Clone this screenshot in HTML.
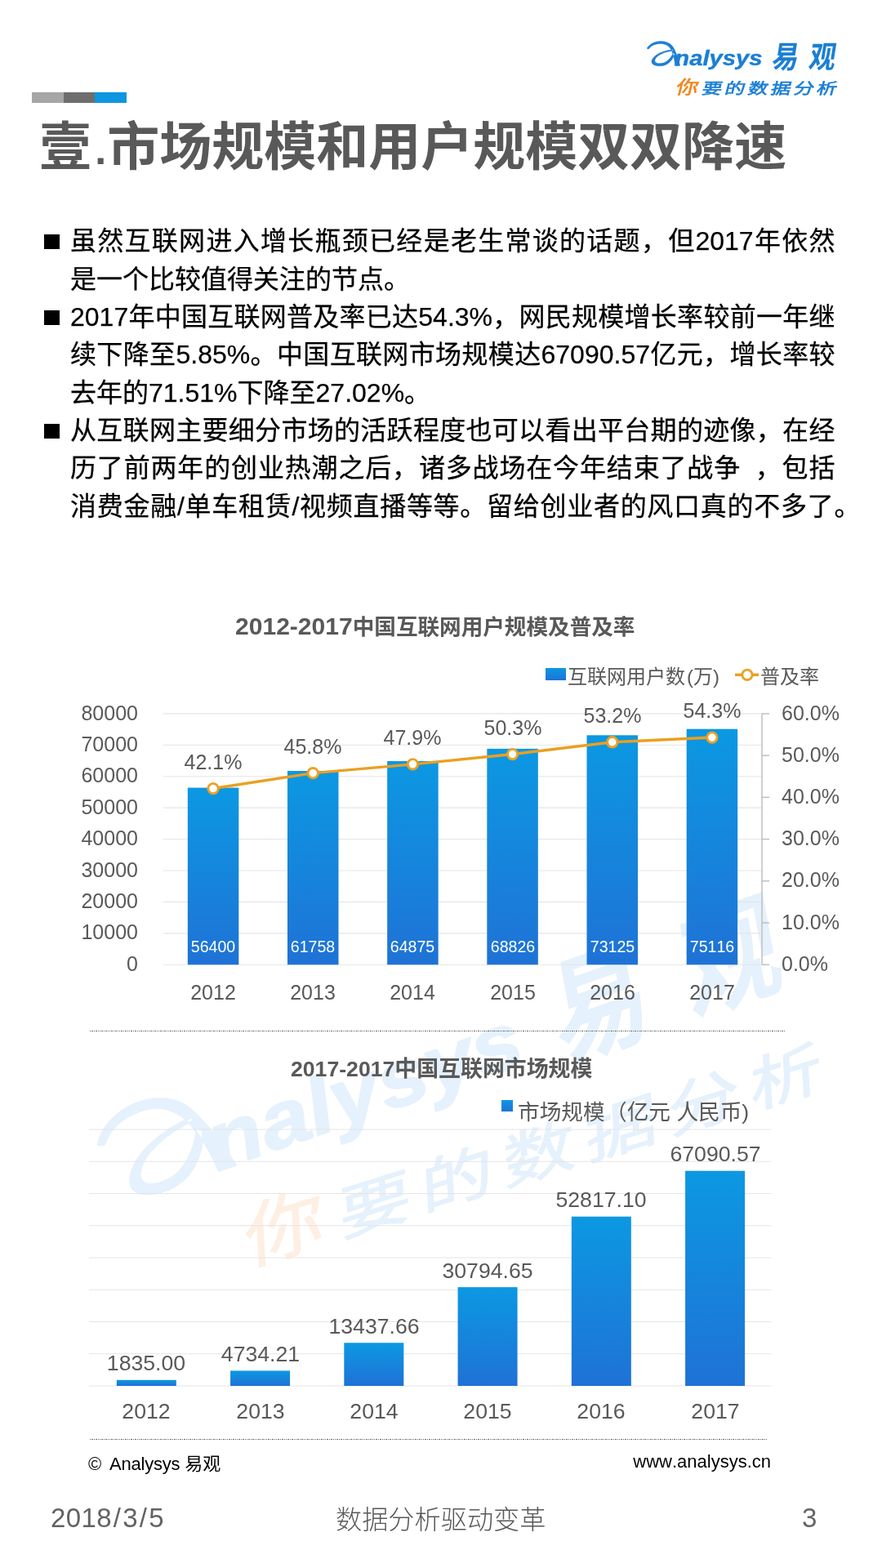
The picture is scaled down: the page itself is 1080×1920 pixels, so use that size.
<!DOCTYPE html>
<html lang="zh-CN"><head><meta charset="utf-8"><title>壹.市场规模和用户规模双双降速</title><style>
html,body{margin:0;padding:0;background:#fff}
#p{position:relative;width:1080px;height:1920px;overflow:hidden;background:#fff;font-family:"Liberation Sans","Noto Sans CJK SC",sans-serif;font-kerning:none}
.abs{position:absolute}
.t{position:absolute;white-space:nowrap;line-height:1;height:1em;will-change:transform}
.bd{-webkit-text-stroke:0.25px #000}
.sl{margin:0 1.8px}
.pd{position:relative;top:-1.5px;display:inline-block;width:19.3px;font-size:50px;padding-left:4.2px;box-sizing:border-box;letter-spacing:0}
.bar{background:linear-gradient(#0c98e2,#1f72d6)}
.dot{height:1.6px;background:repeating-linear-gradient(90deg,#6a6a6a 0,#6a6a6a 1.4px,transparent 1.4px,transparent 2.4px)}
svg{will-change:transform}
svg text{font-family:"Liberation Sans","Noto Sans CJK SC",sans-serif}
</style></head>
<body><div id="p">
<svg class="abs" width="1080" height="1920" viewBox="0 0 1080 1920" style="left:0;top:0"><g opacity="0.12"><g transform="rotate(-2 445 1330) translate(117.5 1390) rotate(-17.3) scale(3.75) translate(-792.2 -59.2)"><path d="M792.2 59.2C795 54.5 801 50.8 809 50.6C816 50.5 822 53.5 825 59C828 64.5 831 73 832.6 80.5L826.6 80.5C826.3 74 825 68.5 823 63.5C821 57.5 816 53.6 809.5 53.5C803 53.4 797.5 55.5 794.5 59.8C793.8 60.3 792.8 60 792.2 59.2ZM824 61C814 61.5 802 66 798.5 73C796 78.5 802 81.3 810 80.7C817 80 823 75 826 66.5L824.5 64.5C821.5 71.5 816 76.8 810 77.6C804.5 78.2 800.8 76.5 802 73C804 67.5 814 63 824.3 62.2Z" fill="#2a8fe0" stroke="#2a8fe0" stroke-width="0.5" stroke-linejoin="round"/><text transform="translate(826.3 80.2) scale(1.125 1)" font-size="26" font-weight="700" font-style="italic" fill="#2a8fe0" stroke="#2a8fe0" stroke-width="0.45">nalysys</text><text transform="translate(943.9 83.3) skewX(-9) scale(0.864 1)" font-size="37.6" font-weight="700" fill="#2a8fe0">易</text><text transform="translate(989.2 83.3) skewX(-9) scale(0.864 1)" font-size="37.6" font-weight="700" fill="#2a8fe0">观</text></g><g transform="translate(117.5 1390) rotate(-17.3) scale(3.75) translate(-792.2 -59.2)"><text transform="translate(826.5 114.6) skewX(-14) scale(1.175 1)" font-size="22.8" fill="#f07d1a" stroke="#f07d1a" stroke-width="0.3">你</text><text transform="translate(858.5 114.8) skewX(-14) scale(1.303 1)" font-size="18.8" fill="#2a8fe0" stroke="#2a8fe0" stroke-width="0.3">要</text><text transform="translate(886.6 114.8) skewX(-14) scale(1.303 1)" font-size="18.8" fill="#2a8fe0" stroke="#2a8fe0" stroke-width="0.3">的</text><text transform="translate(914.7 114.8) skewX(-14) scale(1.303 1)" font-size="18.8" fill="#2a8fe0" stroke="#2a8fe0" stroke-width="0.3">数</text><text transform="translate(942.8 114.8) skewX(-14) scale(1.303 1)" font-size="18.8" fill="#2a8fe0" stroke="#2a8fe0" stroke-width="0.3">据</text><text transform="translate(970.9 114.8) skewX(-14) scale(1.303 1)" font-size="18.8" fill="#2a8fe0" stroke="#2a8fe0" stroke-width="0.3">分</text><text transform="translate(999 114.8) skewX(-14) scale(1.303 1)" font-size="18.8" fill="#2a8fe0" stroke="#2a8fe0" stroke-width="0.3">析</text></g></g></svg>
<svg class="abs" width="1080" height="140" viewBox="0 0 1080 140" style="left:0;top:0"><path d="M792.2 59.2C795 54.5 801 50.8 809 50.6C816 50.5 822 53.5 825 59C828 64.5 831 73 832.6 80.5L826.6 80.5C826.3 74 825 68.5 823 63.5C821 57.5 816 53.6 809.5 53.5C803 53.4 797.5 55.5 794.5 59.8C793.8 60.3 792.8 60 792.2 59.2ZM824 61C814 61.5 802 66 798.5 73C796 78.5 802 81.3 810 80.7C817 80 823 75 826 66.5L824.5 64.5C821.5 71.5 816 76.8 810 77.6C804.5 78.2 800.8 76.5 802 73C804 67.5 814 63 824.3 62.2Z" fill="#1b7fd4" stroke="#1b7fd4" stroke-width="0.5" stroke-linejoin="round"/><text transform="translate(826.3 80.2) scale(1.125 1)" font-size="26" font-weight="700" font-style="italic" fill="#1b7fd4" stroke="#1b7fd4" stroke-width="0.45">nalysys</text><text transform="translate(943.9 83.3) skewX(-9) scale(0.864 1)" font-size="37.6" font-weight="700" fill="#1b7fd4">易</text><text transform="translate(989.2 83.3) skewX(-9) scale(0.864 1)" font-size="37.6" font-weight="700" fill="#1b7fd4">观</text><text transform="translate(826.5 114.6) skewX(-14) scale(1.175 1)" font-size="22.8" fill="#f08519" stroke="#f08519" stroke-width="0.6">你</text><text transform="translate(858.5 114.8) skewX(-14) scale(1.303 1)" font-size="18.8" fill="#1b7fd4" stroke="#1b7fd4" stroke-width="0.6">要</text><text transform="translate(886.6 114.8) skewX(-14) scale(1.303 1)" font-size="18.8" fill="#1b7fd4" stroke="#1b7fd4" stroke-width="0.6">的</text><text transform="translate(914.7 114.8) skewX(-14) scale(1.303 1)" font-size="18.8" fill="#1b7fd4" stroke="#1b7fd4" stroke-width="0.6">数</text><text transform="translate(942.8 114.8) skewX(-14) scale(1.303 1)" font-size="18.8" fill="#1b7fd4" stroke="#1b7fd4" stroke-width="0.6">据</text><text transform="translate(970.9 114.8) skewX(-14) scale(1.303 1)" font-size="18.8" fill="#1b7fd4" stroke="#1b7fd4" stroke-width="0.6">分</text><text transform="translate(999 114.8) skewX(-14) scale(1.303 1)" font-size="18.8" fill="#1b7fd4" stroke="#1b7fd4" stroke-width="0.6">析</text></svg>
<div class="abs" style="left:39px;top:113px;width:39px;height:13px;background:#a6a6a6"></div>
<div class="abs" style="left:78px;top:113px;width:38px;height:13px;background:#6e6e6e"></div>
<div class="abs" style="left:116px;top:113px;width:39px;height:13px;background:#0e96e0"></div>
<div class="t" style="left:48px;top:148.32px;font-size:64px;color:#595959;font-weight:700;"><span>壹</span><span class="pd">.</span><span>市场规模和用户规模双双降速</span></div>
<div class="t bd" style="left:85.8px;top:279.41px;font-size:32px;color:#000;"><span style="letter-spacing:1.28px">虽然互联网进入增长瓶颈已经是老生常谈的话题，但</span><span style="margin-right:1.28px">2017</span><span style="letter-spacing:1.28px">年依然</span></div>
<div class="t bd" style="left:85.8px;top:325.71px;font-size:32px;color:#000;"><span>是一个比较值得关注的节点。</span></div>
<div class="t bd" style="left:85.8px;top:372.01px;font-size:32px;color:#000;"><span style="margin-right:0.26px">2017</span><span style="letter-spacing:0.26px">年中国互联网普及率已达</span><span style="margin-right:0.26px">54.3%</span><span style="letter-spacing:0.26px">，网民规模增长率较前一年继</span></div>
<div class="t bd" style="left:85.8px;top:418.31px;font-size:32px;color:#000;"><span style="letter-spacing:0.36px">续下降至</span><span style="margin-right:0.36px">5.85%</span><span style="letter-spacing:0.36px">。中国互联网市场规模达</span><span style="margin-right:0.36px">67090.57</span><span style="letter-spacing:0.36px">亿元，增长率较</span></div>
<div class="t bd" style="left:85.8px;top:464.61px;font-size:32px;color:#000;"><span>去年的</span>71.51%<span>下降至</span>27.02%<span>。</span></div>
<div class="t bd" style="left:85.8px;top:510.91px;font-size:32px;color:#000;"><span style="letter-spacing:0.3px">从互联网主要细分市场的活跃程度也可以看出平台期的迹像，在经</span></div>
<div class="t bd" style="left:85.8px;top:557.21px;font-size:32px;color:#000;word-spacing:8px;"><span style="letter-spacing:0.84px">历了前两年的创业热潮之后，诸多战场在今年结束了战争</span><span style="margin-right:0.84px"> </span><span style="letter-spacing:0.84px">，包括</span></div>
<div class="t bd" style="left:85.8px;top:603.51px;font-size:32px;color:#000;"><span style="letter-spacing:0.72px">消费金融</span><span style="margin-right:0.72px">/</span><span style="letter-spacing:0.72px">单车租赁</span><span style="margin-right:0.72px">/</span><span style="letter-spacing:0.72px">视频直播等等。留给创业者的风口真的不多了。</span></div>
<div class="abs" style="left:54px;top:287px;width:18.5px;height:18.2px;background:#000"></div>
<div class="abs" style="left:54px;top:379.6px;width:18.5px;height:18.2px;background:#000"></div>
<div class="abs" style="left:54px;top:518.5px;width:18.5px;height:18.2px;background:#000"></div>
<div class="t" style="left:287.5px;top:754.98px;font-size:26.6px;color:#595959;font-weight:700;"><span style="font-size:1.13em;line-height:0">2012-2017</span><span>中国互联网用户规模及普及率</span></div>
<div class="abs bar" style="left:668px;top:818px;width:25px;height:15px"></div>
<div class="t" style="left:695px;top:817.18px;font-size:24px;color:#595959;"><span>互联网用户数</span></div>
<div class="t" style="left:841px;top:817.18px;font-size:24px;color:#595959;">(</div>
<div class="t" style="left:848.6px;top:817.18px;font-size:24px;color:#595959;"><span>万</span></div>
<div class="t" style="left:872.6px;top:817.18px;font-size:24px;color:#595959;">)</div>
<div class="t" style="left:931.3px;top:817.18px;font-size:24px;color:#595959;"><span>普及率</span></div>
<svg class="abs" width="1080" height="500" viewBox="0 800 1080 500" style="left:0;top:800px"><defs><linearGradient id="bg" x1="0" y1="0" x2="0" y2="1"><stop offset="0" stop-color="#0c98e2"/><stop offset="1" stop-color="#1f72d6"/></linearGradient></defs><path d="M200 1181.25H933" stroke="#e5e5e5" stroke-width="1.1"/><path d="M200 1142.83H933" stroke="#e5e5e5" stroke-width="1.1"/><path d="M200 1104.41H933" stroke="#e5e5e5" stroke-width="1.1"/><path d="M200 1065.99H933" stroke="#e5e5e5" stroke-width="1.1"/><path d="M200 1027.57H933" stroke="#e5e5e5" stroke-width="1.1"/><path d="M200 989.15H933" stroke="#e5e5e5" stroke-width="1.1"/><path d="M200 950.73H933" stroke="#e5e5e5" stroke-width="1.1"/><path d="M200 912.31H933" stroke="#e5e5e5" stroke-width="1.1"/><path d="M200 873.89H933" stroke="#e5e5e5" stroke-width="1.1"/><rect x="229.83" y="964.56" width="62.5" height="216.69" fill="url(#bg)"/><rect x="352" y="943.98" width="62.5" height="237.27" fill="url(#bg)"/><rect x="474.17" y="932" width="62.5" height="249.25" fill="url(#bg)"/><rect x="596.33" y="916.82" width="62.5" height="264.43" fill="url(#bg)"/><rect x="718.5" y="900.3" width="62.5" height="280.95" fill="url(#bg)"/><rect x="840.67" y="892.65" width="62.5" height="288.6" fill="url(#bg)"/><path d="M933 873.89V1181.25" stroke="#bfbfbf" stroke-width="1.5" fill="none"/><path d="M933 1181.25H942" stroke="#bfbfbf" stroke-width="1.5"/><path d="M933 1130.02H942" stroke="#bfbfbf" stroke-width="1.5"/><path d="M933 1078.8H942" stroke="#bfbfbf" stroke-width="1.5"/><path d="M933 1027.57H942" stroke="#bfbfbf" stroke-width="1.5"/><path d="M933 976.34H942" stroke="#bfbfbf" stroke-width="1.5"/><path d="M933 925.12H942" stroke="#bfbfbf" stroke-width="1.5"/><path d="M933 873.89H942" stroke="#bfbfbf" stroke-width="1.5"/><polyline points="261.08,965.59 383.25,946.63 505.42,935.87 627.58,923.58 749.75,908.72 871.92,903.09" fill="none" stroke="#eaa021" stroke-width="3.5" stroke-linejoin="round"/><circle cx="261.08" cy="965.59" r="6.2" fill="#fff" stroke="#e9a224" stroke-width="2.9"/><circle cx="383.25" cy="946.63" r="6.2" fill="#fff" stroke="#e9a224" stroke-width="2.9"/><circle cx="505.42" cy="935.87" r="6.2" fill="#fff" stroke="#e9a224" stroke-width="2.9"/><circle cx="627.58" cy="923.58" r="6.2" fill="#fff" stroke="#e9a224" stroke-width="2.9"/><circle cx="749.75" cy="908.72" r="6.2" fill="#fff" stroke="#e9a224" stroke-width="2.9"/><circle cx="871.92" cy="903.09" r="6.2" fill="#fff" stroke="#e9a224" stroke-width="2.9"/><path d="M900 826.3H929" stroke="#eaa021" stroke-width="3.5"/><circle cx="915" cy="826.3" r="6.2" fill="#fff" stroke="#e9a224" stroke-width="2.9"/></svg>
<div class="t" style="left:168.7px;top:1167.89px;font-size:25px;color:#595959;transform:translateX(-100%);">0</div>
<div class="t" style="left:168.7px;top:1129.47px;font-size:25px;color:#595959;transform:translateX(-100%);">10000</div>
<div class="t" style="left:168.7px;top:1091.05px;font-size:25px;color:#595959;transform:translateX(-100%);">20000</div>
<div class="t" style="left:168.7px;top:1052.63px;font-size:25px;color:#595959;transform:translateX(-100%);">30000</div>
<div class="t" style="left:168.7px;top:1014.21px;font-size:25px;color:#595959;transform:translateX(-100%);">40000</div>
<div class="t" style="left:168.7px;top:975.79px;font-size:25px;color:#595959;transform:translateX(-100%);">50000</div>
<div class="t" style="left:168.7px;top:937.37px;font-size:25px;color:#595959;transform:translateX(-100%);">60000</div>
<div class="t" style="left:168.7px;top:898.95px;font-size:25px;color:#595959;transform:translateX(-100%);">70000</div>
<div class="t" style="left:168.7px;top:860.53px;font-size:25px;color:#595959;transform:translateX(-100%);">80000</div>
<div class="t" style="left:957px;top:1167.89px;font-size:25px;color:#595959;">0.0%</div>
<div class="t" style="left:957px;top:1116.66px;font-size:25px;color:#595959;">10.0%</div>
<div class="t" style="left:957px;top:1065.43px;font-size:25px;color:#595959;">20.0%</div>
<div class="t" style="left:957px;top:1014.21px;font-size:25px;color:#595959;">30.0%</div>
<div class="t" style="left:957px;top:962.98px;font-size:25px;color:#595959;">40.0%</div>
<div class="t" style="left:957px;top:911.75px;font-size:25px;color:#595959;">50.0%</div>
<div class="t" style="left:957px;top:860.53px;font-size:25px;color:#595959;">60.0%</div>
<div class="t" style="left:261.08px;top:920.62px;font-size:25px;color:#595959;transform:translateX(-50%);">42.1%</div>
<div class="t" style="left:261.08px;top:1150.11px;font-size:19.6px;color:#fff;transform:translateX(-50%);">56400</div>
<div class="t" style="left:261.08px;top:1202.84px;font-size:25px;color:#595959;transform:translateX(-50%);">2012</div>
<div class="t" style="left:383.25px;top:901.67px;font-size:25px;color:#595959;transform:translateX(-50%);">45.8%</div>
<div class="t" style="left:383.25px;top:1150.11px;font-size:19.6px;color:#fff;transform:translateX(-50%);">61758</div>
<div class="t" style="left:383.25px;top:1202.84px;font-size:25px;color:#595959;transform:translateX(-50%);">2013</div>
<div class="t" style="left:505.42px;top:890.91px;font-size:25px;color:#595959;transform:translateX(-50%);">47.9%</div>
<div class="t" style="left:505.42px;top:1150.11px;font-size:19.6px;color:#fff;transform:translateX(-50%);">64875</div>
<div class="t" style="left:505.42px;top:1202.84px;font-size:25px;color:#595959;transform:translateX(-50%);">2014</div>
<div class="t" style="left:627.58px;top:878.62px;font-size:25px;color:#595959;transform:translateX(-50%);">50.3%</div>
<div class="t" style="left:627.58px;top:1150.11px;font-size:19.6px;color:#fff;transform:translateX(-50%);">68826</div>
<div class="t" style="left:627.58px;top:1202.84px;font-size:25px;color:#595959;transform:translateX(-50%);">2015</div>
<div class="t" style="left:749.75px;top:863.76px;font-size:25px;color:#595959;transform:translateX(-50%);">53.2%</div>
<div class="t" style="left:749.75px;top:1150.11px;font-size:19.6px;color:#fff;transform:translateX(-50%);">73125</div>
<div class="t" style="left:749.75px;top:1202.84px;font-size:25px;color:#595959;transform:translateX(-50%);">2016</div>
<div class="t" style="left:871.92px;top:858.13px;font-size:25px;color:#595959;transform:translateX(-50%);">54.3%</div>
<div class="t" style="left:871.92px;top:1150.11px;font-size:19.6px;color:#fff;transform:translateX(-50%);">75116</div>
<div class="t" style="left:871.92px;top:1202.84px;font-size:25px;color:#595959;transform:translateX(-50%);">2017</div>
<div class="abs dot" style="left:110px;top:1261.7px;width:852px"></div>
<div class="abs dot" style="left:110px;top:1761.8px;width:830px"></div>
<div class="t" style="left:356px;top:1295.73px;font-size:26.9px;color:#595959;font-weight:700;"><span style="font-size:0.99em;line-height:0">2017-2017</span><span>中国互联网市场规模</span></div>
<div class="abs bar" style="left:614px;top:1347px;width:14px;height:14px"></div>
<div class="t" style="left:634px;top:1348.92px;font-size:26.67px;color:#595959;"><span>市场规模</span></div>
<div class="t" style="left:741px;top:1348.92px;font-size:26.67px;color:#595959;"><span>（亿元</span> <span>人民币</span>)</div>
<svg class="abs" width="1080" height="340" viewBox="0 1370 1080 340" style="left:0;top:1370px"><path d="M109 1697H944.5" stroke="#e5e5e5" stroke-width="1.1"/><path d="M109 1657.75H944.5" stroke="#e5e5e5" stroke-width="1.1"/><path d="M109 1618.5H944.5" stroke="#e5e5e5" stroke-width="1.1"/><path d="M109 1579.25H944.5" stroke="#e5e5e5" stroke-width="1.1"/><path d="M109 1540H944.5" stroke="#e5e5e5" stroke-width="1.1"/><path d="M109 1500.75H944.5" stroke="#e5e5e5" stroke-width="1.1"/><path d="M109 1461.5H944.5" stroke="#e5e5e5" stroke-width="1.1"/><path d="M109 1422.25H944.5" stroke="#e5e5e5" stroke-width="1.1"/><path d="M109 1383H944.5" stroke="#e5e5e5" stroke-width="1.1"/><rect x="142.82" y="1689.8" width="73" height="7.2" fill="url(#bg)"/><rect x="282.07" y="1678.42" width="73" height="18.58" fill="url(#bg)"/><rect x="421.32" y="1644.26" width="73" height="52.74" fill="url(#bg)"/><rect x="560.58" y="1576.13" width="73" height="120.87" fill="url(#bg)"/><rect x="699.83" y="1489.69" width="73" height="207.31" fill="url(#bg)"/><rect x="839.08" y="1433.67" width="73" height="263.33" fill="url(#bg)"/></svg>
<div class="t" style="left:179.32px;top:1656.22px;font-size:26.67px;color:#595959;transform:translateX(-50%);">1835.00</div>
<div class="t" style="left:179.32px;top:1714.92px;font-size:26.67px;color:#595959;transform:translateX(-50%);">2012</div>
<div class="t" style="left:318.57px;top:1644.84px;font-size:26.67px;color:#595959;transform:translateX(-50%);">4734.21</div>
<div class="t" style="left:318.57px;top:1714.92px;font-size:26.67px;color:#595959;transform:translateX(-50%);">2013</div>
<div class="t" style="left:457.82px;top:1610.68px;font-size:26.67px;color:#595959;transform:translateX(-50%);">13437.66</div>
<div class="t" style="left:457.82px;top:1714.92px;font-size:26.67px;color:#595959;transform:translateX(-50%);">2014</div>
<div class="t" style="left:597.08px;top:1542.55px;font-size:26.67px;color:#595959;transform:translateX(-50%);">30794.65</div>
<div class="t" style="left:597.08px;top:1714.92px;font-size:26.67px;color:#595959;transform:translateX(-50%);">2015</div>
<div class="t" style="left:736.33px;top:1456.12px;font-size:26.67px;color:#595959;transform:translateX(-50%);">52817.10</div>
<div class="t" style="left:736.33px;top:1714.92px;font-size:26.67px;color:#595959;transform:translateX(-50%);">2016</div>
<div class="t" style="left:875.58px;top:1400.09px;font-size:26.67px;color:#595959;transform:translateX(-50%);">67090.57</div>
<div class="t" style="left:875.58px;top:1714.92px;font-size:26.67px;color:#595959;transform:translateX(-50%);">2017</div>
<div class="t" style="left:108px;top:1782.08px;font-size:22px;color:#000;letter-spacing:-0.2px;"><span style="margin-right:4px">©</span> Analysys <span style="letter-spacing:0">易观</span></div>
<div class="t" style="left:944px;top:1779.38px;font-size:22px;color:#000;transform:translateX(-100%);">www.analysys.cn</div>
<div class="t" style="left:62px;top:1842.07px;font-size:33px;color:#636363;letter-spacing:0.4px;">2018<span class="sl">/</span>3<span class="sl">/</span>5</div>
<div class="t" style="left:411px;top:1844.74px;font-size:32.2px;color:#595959;font-weight:300;"><span>数据分析驱动变革</span></div>
<div class="t" style="left:982px;top:1842.07px;font-size:33px;color:#666;">3</div>
</div></body></html>
